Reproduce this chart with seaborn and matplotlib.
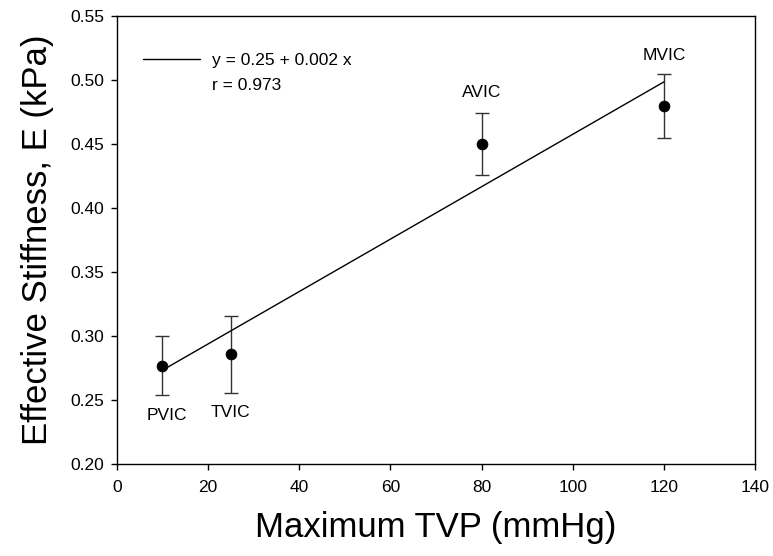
import numpy as np
import pandas as pd
import matplotlib
matplotlib.use("Agg")
import matplotlib.pyplot as plt
import seaborn as sns

# valve data
valves = ["PVIC", "TVIC", "AVIC", "MVIC"]
tvp = [10, 25, 80, 120]
stiffness = [0.277, 0.286, 0.450, 0.480]
sem = [0.023, 0.030, 0.024, 0.025]

df = pd.DataFrame({"valve": valves, "tvp": tvp, "E": stiffness, "err": sem})

# linear fit
slope, icpt = np.polyfit(df["tvp"], df["E"], 1)
r = np.corrcoef(df["tvp"], df["E"])[0, 1]
fit = pd.DataFrame({"tvp": [min(tvp), max(tvp)]})
fit["E"] = icpt + slope * fit["tvp"]

sns.set_style("ticks")
plt.rcParams["font.family"] = ["Liberation Sans", "DejaVu Sans"]
plt.rcParams["text.color"] = "black"

fig, ax = plt.subplots(figsize=(7.73, 5.56), dpi=100)

ax.errorbar(df["tvp"], df["E"], yerr=df["err"], fmt="none", ecolor="#333333",
            elinewidth=1, capsize=5, capthick=1, zorder=2)
sns.lineplot(data=fit, x="tvp", y="E", color="black", linewidth=1, ax=ax,
             label="y = 0.25 + 0.002 x", zorder=3)
sns.scatterplot(data=df, x="tvp", y="E", color="black", s=60, edgecolor="black",
                ax=ax, zorder=4, legend=False)

# valve labels
offsets = {"PVIC": (3, -36), "TVIC": (0, -42), "AVIC": (0, 37), "MVIC": (0, 36)}
for _, row in df.iterrows():
    dx, dy = offsets[row["valve"]]
    ax.annotate(row["valve"], (row["tvp"], row["E"]), xytext=(dx, dy),
                textcoords="offset points", ha="center", va="center",
                fontsize=12.5, color="black")

ax.legend(loc="center left", bbox_to_anchor=(0.041, 0.902), frameon=False,
          fontsize=12.5, handlelength=3.3, handletextpad=0.7, borderpad=0,
          borderaxespad=0, labelcolor="black")
ax.text(0.149, 0.846, f"r = {r:.3f}", transform=ax.transAxes, fontsize=12.5,
        va="center", color="black")

ax.set_xlim(0, 140)
ax.set_ylim(0.20, 0.55)
ax.set_xticks(np.arange(0, 141, 20))
yt = np.arange(0.20, 0.551, 0.05)
ax.set_yticks(yt)
ax.set_yticklabels([f"{v:.2f}" for v in yt])
ax.tick_params(labelsize=12.5, direction="out", length=4, width=1,
               colors="black")
ax.tick_params(axis="x", pad=7)
ax.tick_params(axis="y", pad=5)
ax.set_xlabel("Maximum TVP (mmHg)", fontsize=25, labelpad=12, color="black")
ax.set_ylabel("Effective Stiffness, E (kPa)", fontsize=25, labelpad=12,
              color="black")
for s in ax.spines.values():
    s.set_linewidth(1)
    s.set_color("black")

plt.subplots_adjust(left=0.151, right=0.977, top=0.971, bottom=0.165)
plt.savefig("out.png", dpi=100)
